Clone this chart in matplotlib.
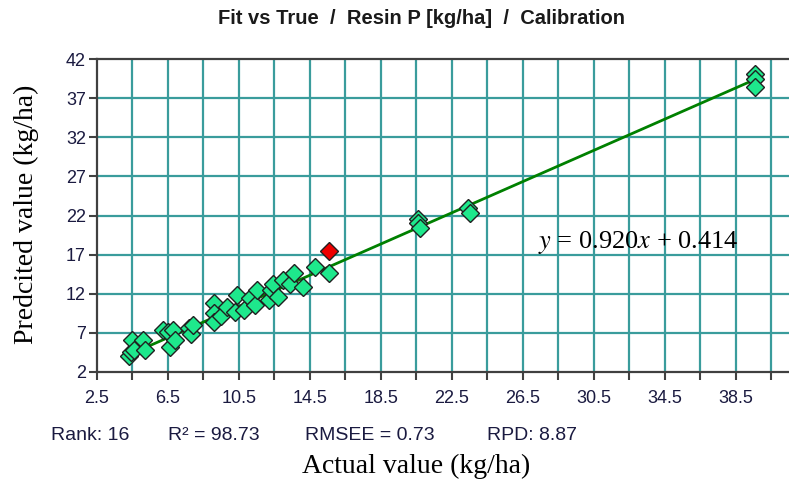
import matplotlib.pyplot as plt
import numpy as np

# calibration samples
actual = [4.3, 4.4, 4.5, 4.6, 5.1, 5.2, 6.2, 6.5, 6.6, 6.8, 6.9, 7.7, 7.8, 7.9,
          9.1, 9.1, 9.1, 9.5, 9.8, 10.3, 10.4, 10.8, 11.1, 11.4, 11.5, 12.2,
          12.3, 12.4, 12.7, 13.0, 13.4, 13.6, 14.1, 14.8, 15.6,
          20.6, 20.6, 20.7, 23.4, 23.5, 39.6, 39.6, 39.6]
predicted = [4.0, 4.5, 6.1, 4.8, 6.1, 4.8, 7.4, 7.1, 5.2, 7.4, 6.1, 7.6, 6.9, 8.0,
             10.8, 9.5, 8.4, 9.1, 10.3, 9.7, 11.8, 9.9, 11.4, 10.6, 12.5, 11.2,
             12.5, 13.3, 11.6, 13.7, 13.3, 14.6, 12.9, 15.4, 14.7,
             21.6, 21.0, 20.4, 22.9, 22.3, 40.1, 39.5, 38.4]
outlier_x = [15.6]
outlier_y = [17.5]

# regression line as drawn in the chart
fit_x = [4.2, 39.6]
fit_y = [4.1, 39.4]
equation = r"$y$ = 0.920$x$ + 0.414"

stats = ["Rank: 16", "R² = 98.73", "RMSEE = 0.73", "RPD: 8.87"]
stats_x = [51, 168, 305, 487]  # pixel starts

x_ticks = np.arange(2.5, 41.0, 2.0)
y_ticks = np.arange(2, 43, 5)

TEAL = "#3a9c9c"
SPINE = "#404040"
LABEL = "#1a1a40"

fig = plt.figure(figsize=(7.89, 4.97), dpi=100)
ax = fig.add_axes([97 / 789, 125 / 497, 692 / 789, 313 / 497])

ax.set_xlim(2.5, 41.5)
ax.set_ylim(2, 42)

# grid
for xv in x_ticks[1:]:
    ax.axvline(xv, color=TEAL, lw=1.6, zorder=1)
for yv in y_ticks[1:-1]:
    ax.axhline(yv, color=TEAL, lw=1.6, zorder=1)

ax.set_xticks(x_ticks)
ax.set_xticklabels([f"{v:.1f}" if i % 2 == 0 else "" for i, v in enumerate(x_ticks)])
ax.set_yticks(y_ticks)
ax.tick_params(direction="out", length=6, width=1.5, color=SPINE,
               labelsize=13, labelcolor=LABEL)
ax.tick_params(axis="x", pad=7)
ax.tick_params(axis="y", pad=2)
for lab in ax.get_xticklabels() + ax.get_yticklabels():
    lab.set_family("Liberation Sans")

for side in ["left", "bottom", "top"]:
    ax.spines[side].set_color(SPINE)
    ax.spines[side].set_linewidth(1.6)
ax.spines["right"].set_visible(False)

ax.plot(fit_x, fit_y, color="#008000", lw=2, zorder=3)

ax.plot(actual, predicted, "D", ms=9.5, mfc="#1ee88c", mec="#202020",
        mew=1, ls="none", zorder=4)
ax.plot(outlier_x, outlier_y, "D", ms=9.5, mfc="#ee0000", mec="#202020",
        mew=1, ls="none", zorder=5)

fig.text(538 / 789, 1 - 243 / 497, equation, ha="left", va="center",
         fontsize=19, family="Liberation Serif", math_fontfamily="stix")

fig.text(422 / 789, 1 - 19 / 497, "Fit vs True  /  Resin P [kg/ha]  /  Calibration",
         ha="center", va="center", fontsize=14.5, fontweight="bold",
         family="Liberation Sans", color="#1a1a1a")

for s, sx in zip(stats, stats_x):
    fig.text(sx / 789, 1 - 435 / 497, s, ha="left", va="center",
             fontsize=14, family="Liberation Sans", color=LABEL)

fig.text(416 / 789, 1 - 466 / 497, "Actual value (kg/ha)", ha="center",
         va="center", fontsize=20, family="Liberation Serif")
fig.text(26 / 789, 1 - 214 / 497, "Predcited value (kg/ha)", ha="center",
         va="center", rotation=90, fontsize=20, family="Liberation Serif")

fig.savefig("out.png", dpi=100)
